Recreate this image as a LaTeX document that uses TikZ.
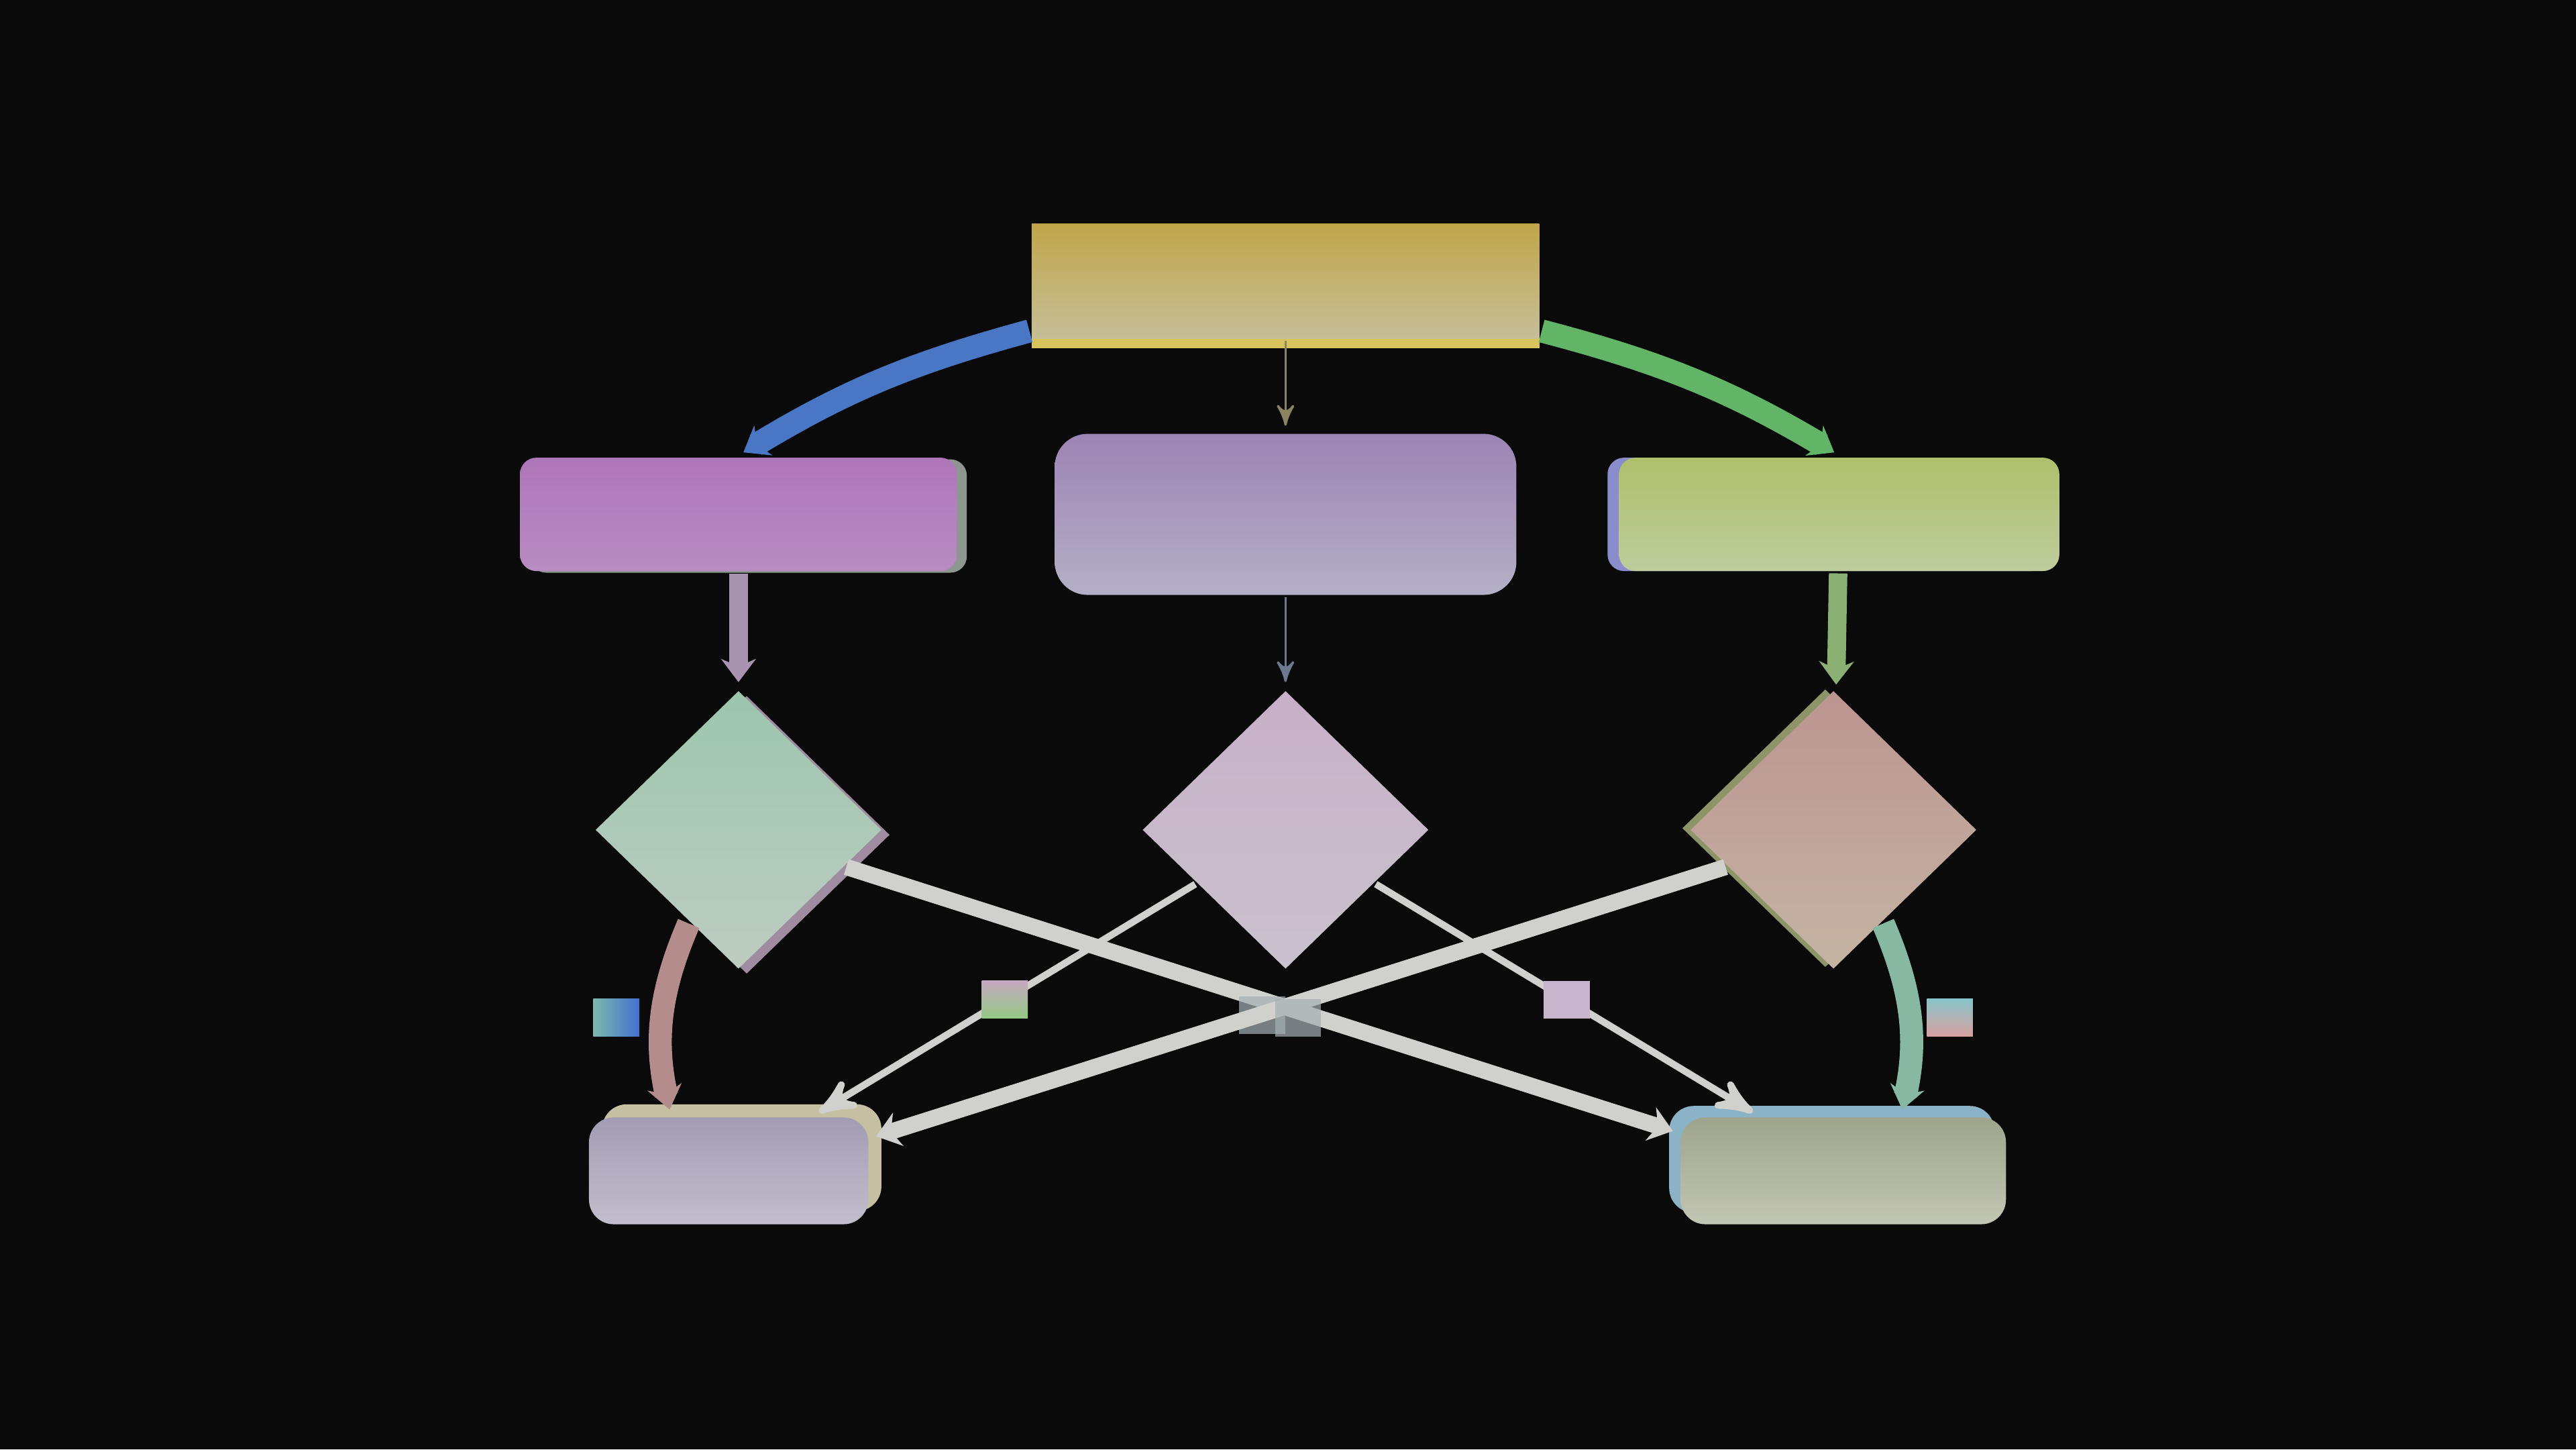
\documentclass[tikz,border=0pt]{standalone}
\usetikzlibrary{arrows,arrows.meta,positioning,shapes.geometric,shadows}

\definecolor{bg}{HTML}{0A0A0A}
\definecolor{topA}{HTML}{C0A64A}
\definecolor{topB}{HTML}{C6BE98}
\definecolor{topC}{HTML}{D8C45C}
\definecolor{midA}{HTML}{9C84B4}
\definecolor{midB}{HTML}{B4B0C6}
\definecolor{leftA}{HTML}{AE76B8}
\definecolor{leftB}{HTML}{B88CC2}
\definecolor{leftC}{HTML}{8E9690}
\definecolor{rightA}{HTML}{AEC06C}
\definecolor{rightB}{HTML}{BECC9C}
\definecolor{rightC}{HTML}{8A8CCC}
\definecolor{dLA}{HTML}{9CC6AE}
\definecolor{dLB}{HTML}{BECCC2}
\definecolor{dLC}{HTML}{A08CA0}
\definecolor{dMA}{HTML}{C8B0C8}
\definecolor{dMB}{HTML}{C8C2CC}
\definecolor{dRA}{HTML}{BC9490}
\definecolor{dRB}{HTML}{C4B4A4}
\definecolor{dRC}{HTML}{8C9468}
\definecolor{bLA}{HTML}{A29CB4}
\definecolor{bLB}{HTML}{C2BECC}
\definecolor{bLC}{HTML}{C6C0A2}
\definecolor{bRA}{HTML}{9EA48C}
\definecolor{bRB}{HTML}{C2C6B4}
\definecolor{bRC}{HTML}{8CB2C8}
\definecolor{blueT}{HTML}{4A76C6}
\definecolor{greenT}{HTML}{62B466}
\definecolor{violetT}{HTML}{A894B0}
\definecolor{oliveT}{HTML}{8AB074}
\definecolor{roseT}{HTML}{B48C8C}
\definecolor{mintT}{HTML}{86B8A2}
\definecolor{paleT}{HTML}{D0D0CC}
\definecolor{wireA}{HTML}{8A8460}
\definecolor{wireB}{HTML}{6C7890}
\definecolor{cubeT}{HTML}{4470CC}
\definecolor{cubeF}{HTML}{7CB8AE}
\definecolor{cubeR}{HTML}{D8A0A2}
\definecolor{cubeS}{HTML}{88C4C8}
\definecolor{cubeG}{HTML}{94C884}
\definecolor{cubeH}{HTML}{C4A8C0}
\definecolor{cubeP}{HTML}{C8B4CC}
\definecolor{cubeC}{HTML}{A4B0B4}

\begin{document}
\begin{tikzpicture}[->,>=stealth',shorten >=1pt,auto,node distance=3.33cm,
        thick,box node/.style={rectangle,inner sep=0pt,rounded corners=.1cm},
        diamond node/.style={diamond,inner sep=0pt,minimum width=1.75cm,minimum height=1.7cm},
        tag/.style={rectangle,inner sep=0pt,minimum width=.28cm,minimum height=.23cm},
        tube/.style={-{Stealth[length=4pt,width=6pt]}},
        rim/.style n args={3}{drop shadow={shadow xshift=#1,shadow yshift=#2,fill=#3,opacity=1}}]

        \fill[bg,-] (0,0) rectangle (15.68,-8.82);
        \useasboundingbox (0,0) rectangle (15.68,-8.82);

        \node[box node,rounded corners=0pt,minimum width=3.09cm,minimum height=.7cm,
              top color=topA,bottom color=topB,rim={0cm}{-.06cm}{topC}] (1) at (7.825,-1.71) {};
        \node[box node,rounded corners=.2cm,minimum width=2.81cm,minimum height=.98cm,
              top color=midA,bottom color=midB] (3) [below of=1, node distance=1.42cm] {};
        \node[box node,minimum width=2.66cm,minimum height=.69cm,
              top color=leftA,bottom color=leftB,rim={.06cm}{-.01cm}{leftC}] (2) [left of=3] {};
        \node[box node,minimum width=2.68cm,minimum height=.69cm,xshift=.04cm,
              top color=rightA,bottom color=rightB,rim={-.07cm}{0cm}{rightC}] (4) [right of=3] {};

        \node[diamond node,top color=dLA,bottom color=dLB,rim={.05cm}{-.03cm}{dLC}] (5) [below of=2, node distance=1.92cm] {};
        \node[diamond node,top color=dMA,bottom color=dMB] (6) [below of=3, node distance=1.92cm] {};
        \node[diamond node,xshift=-.035cm,top color=dRA,bottom color=dRB,rim={-.05cm}{.01cm}{dRC}] (7) [below of=4, node distance=1.92cm] {};

        \node[box node,rounded corners=.15cm,minimum width=1.7cm,minimum height=.65cm,xshift=-.06cm,
              top color=bLA,bottom color=bLB,rim={.08cm}{.08cm}{bLC}] (8) [below of=5, node distance=2.075cm] {};
        \node[box node,rounded corners=.15cm,minimum width=1.98cm,minimum height=.65cm,xshift=.06cm,
              top color=bRA,bottom color=bRB,rim={-.07cm}{.07cm}{bRC}] (9) [below of=7, node distance=2.075cm] {};

        \path[every node/.style={tag}]
        ([yshift=.06cm]1.south west) edge[tube,draw=blueT,line width=4pt,bend right=8] (2.north)
        (1.south) edge[draw=wireA,line width=.4pt] (3.north)
        ([yshift=.06cm]1.south east) edge[tube,draw=greenT,line width=4pt,bend left=8] (4.north)
        (2) edge[tube,draw=violetT,line width=3.2pt] (5)
        (3) edge[draw=wireB,line width=.4pt] (6)
        (4) edge[tube,draw=oliveT,line width=3.2pt] (7)
        (5.-118) edge[tube,draw=roseT,line width=4pt,bend right=18]
            node[left=2pt,left color=cubeF,right color=cubeT] {} (8.136)
        (7.-62) edge[tube,draw=mintT,line width=4pt,bend left=18]
            node[right=1pt,top color=cubeS,bottom color=cubeR] {} (9.44)
        (6.-149) edge[draw=paleT,line width=1.2pt]
            node[anchor=center,top color=cubeH,bottom color=cubeG] {} (8.33)
        (6.-31) edge[draw=paleT,line width=1.2pt]
            node[anchor=center,fill=cubeP] {} (9.147)
        (5.-19) edge[tube,draw=paleT,line width=2.8pt]
            node[below=-2pt,fill=cubeC,fill opacity=.7] {} (9.167)
        (7.199) edge[tube,draw=paleT,line width=2.8pt]
            node[below=-2pt,fill=cubeC,fill opacity=.7] {} (8.13);
      \end{tikzpicture}
\end{document}
